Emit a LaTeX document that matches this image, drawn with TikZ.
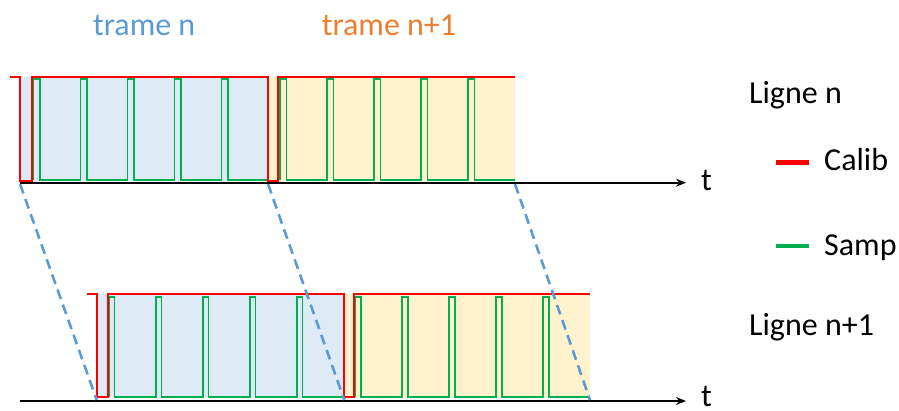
\documentclass[tikz,border=0pt]{standalone}
\usepackage{fontspec}
\setmainfont{Carlito}
\usetikzlibrary{arrows.meta}
\definecolor{calib}{HTML}{FF0000}
\definecolor{samp}{HTML}{00B050}
\definecolor{fillA}{HTML}{DEEBF7}
\definecolor{fillB}{HTML}{FFF2CC}
\definecolor{txtA}{HTML}{5B9BD5}
\definecolor{txtB}{HTML}{ED7D31}
\tikzset{
  calibw/.style={draw=calib, line width=1.8pt, line join=miter},
  sampw/.style={draw=samp, line width=1.8pt, line join=miter},
  axisline/.style={draw=black, line width=2pt, -{Stealth[length=10pt,width=8pt]}},
  proj/.style={draw=txtA, line width=2.6pt, dash pattern=on 10pt off 6pt},
  lbl/.style={font=\fontsize{32}{38}\selectfont, anchor=base west, inner sep=0pt},
  legline/.style={line width=4.5pt},
}
\begin{document}
\begin{tikzpicture}[x=1pt, y=-1pt]
\useasboundingbox (0,0) rectangle (899,410);
% fills
\fill[fillA] (20,77.3) rectangle (268,180.7);
\fill[fillB] (268,77.3) rectangle (515,180.7);
\fill[fillA] (96.7,294.3) rectangle (344.3,397.3);
\fill[fillB] (344.3,294.3) rectangle (590,397.3);
% axes
\coordinate (a1s) at (20,182.7);
\coordinate (a1e) at (686,182.7);
\coordinate (a2s) at (20,401);
\coordinate (a2e) at (686,401);
\draw[axisline] (a1s) -- (a1e);
\draw[axisline] (a2s) -- (a2e);
% green, top row
\draw[sampw] (33.5,180) \foreach \k in {0,...,4}{ -- ({33.5+47*\k},180) -- ({33.5+47*\k},79.3) -- ({40+47*\k},79.3) -- ({40+47*\k},180)} -- (268,180);
\draw[sampw] (280,180) \foreach \k in {0,...,4}{ -- ({280+47*\k},180) -- ({280+47*\k},79.3) -- ({286.5+47*\k},79.3) -- ({286.5+47*\k},180)} -- (515,180);
% green, bottom row
\draw[sampw] (108.7,396.7) \foreach \k in {0,...,4}{ -- ({108.7+47*\k},396.7) -- ({108.7+47*\k},296.7) -- ({114.5+47*\k},296.7) -- ({114.5+47*\k},396.7)} -- (344.3,396.7);
\draw[sampw] (354.7,396.7) \foreach \k in {0,...,4}{ -- ({354.7+47*\k},396.7) -- ({354.7+47*\k},296.7) -- ({361+47*\k},296.7) -- ({361+47*\k},396.7)} -- (590,396.7);
% red
\draw[calibw] (10,77.3) -- (20,77.3) -- (20,180.7) -- (32,180.7) -- (32,77.3) -- (268,77.3) -- (268,180.7) -- (278,180.7) -- (278,77.3) -- (515,77.3);
\draw[calibw] (86.7,294.3) -- (96.7,294.3) -- (96.7,397.3) -- (107.7,397.3) -- (107.7,294.3) -- (344.3,294.3) -- (344.3,397.3) -- (354.3,397.3) -- (354.3,294.3) -- (590,294.3);
% projection lines
\coordinate (p1t) at (20,184);
\coordinate (p1b) at (96.7,400);
\coordinate (p2t) at (268,184);
\coordinate (p2b) at (344.3,400);
\coordinate (p3t) at (515,184);
\coordinate (p3b) at (590,400);
\draw[proj] (p1t) -- (p1b);
\draw[proj] (p2t) -- (p2b);
\draw[proj] (p3t) -- (p3b);
% labels
\node[lbl, text=txtA] (tn) at (93,35) {trame n};
\node[lbl, text=txtB] (tn1) at (321.7,35) {trame n+1};
\node[lbl] (ln) at (749,103.5) {Ligne n};
\node[lbl] (cal) at (824,170) {Calib};
\node[lbl] (smp) at (824,255) {Samp};
\node[lbl] (ln1) at (749,335) {Ligne n+1};
\node[lbl] (t1) at (701,190) {t};
\node[lbl] (t2) at (701,406.5) {t};
% legend
\coordinate (lr1) at (776,162.3);
\coordinate (lr2) at (809.3,162.3);
\coordinate (lg1) at (776,246);
\coordinate (lg2) at (809.3,246);
\draw[legline, calib] (lr1) -- (lr2);
\draw[legline, samp] (lg1) -- (lg2);
\end{tikzpicture}
\end{document}
